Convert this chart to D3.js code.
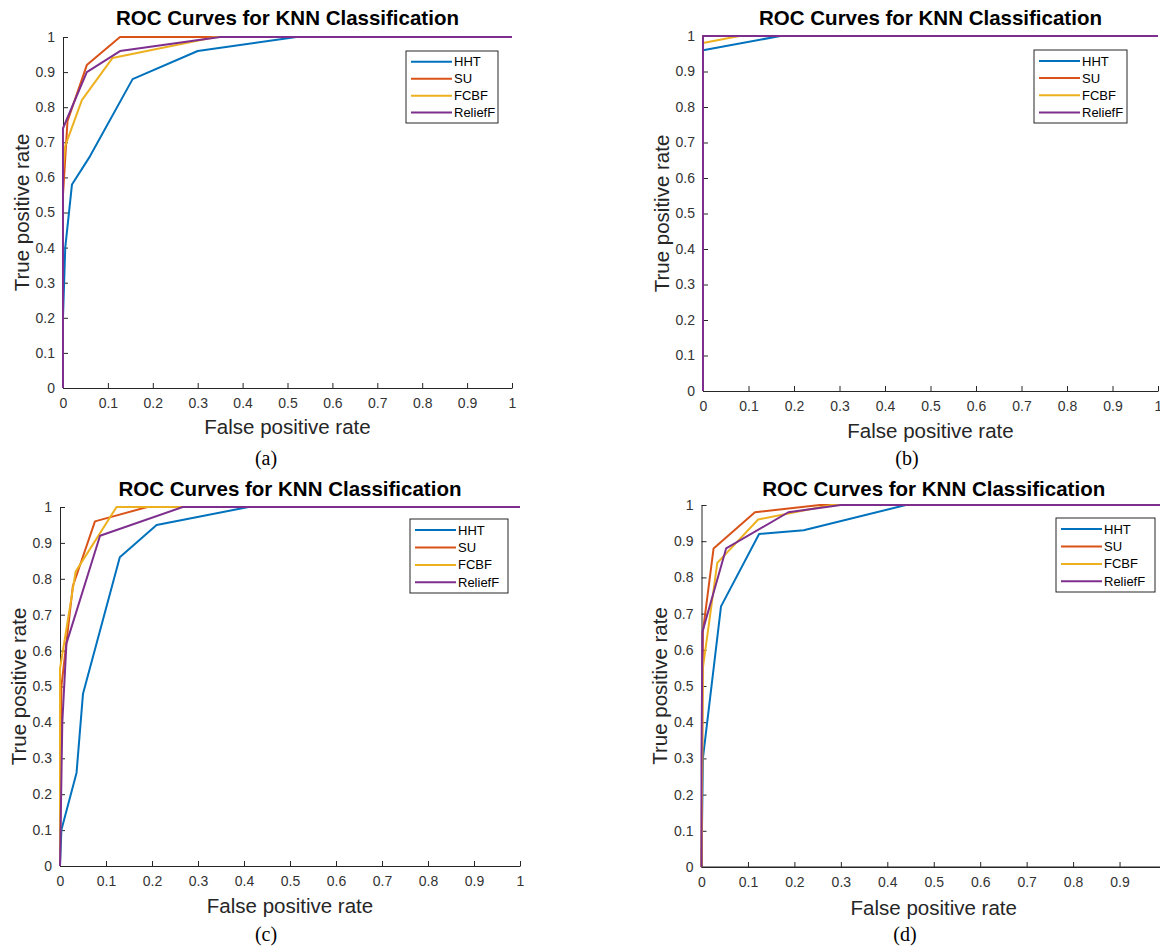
<!DOCTYPE html>
<html>
<head>
<meta charset="utf-8">
<script src="https://cdn.jsdelivr.net/npm/d3@7"></script>
<style>
  body { margin: 0; background: #fff; }
  text { font-family: "Liberation Sans", Arial, sans-serif; }
</style>
</head>
<body>
<svg id="chart" width="1160" height="946"></svg>
<script>
'use strict';

// ---- data ----
const seriesNames = ["HHT", "SU", "FCBF", "ReliefF"];
const seriesColors = ["#0072BD", "#D95319", "#EDB120", "#7E2F8E"];
const tickValues = [0, 0.1, 0.2, 0.3, 0.4, 0.5, 0.6, 0.7, 0.8, 0.9, 1];
const tickLabels = ["0", "0.1", "0.2", "0.3", "0.4", "0.5", "0.6", "0.7", "0.8", "0.9", "1"];
const captions = ["(a)", "(b)", "(c)", "(d)"];
const titleText = "ROC Curves for KNN Classification";
const xLabelText = "False positive rate";
const yLabelText = "True positive rate";

// [false positive rate, true positive rate], one array per series: HHT, SU, FCBF, ReliefF
const rocA = [
  [[0,0],[0,0.2],[0.005,0.4],[0.02,0.58],[0.06,0.66],[0.155,0.88],[0.3,0.96],[0.52,1],[1,1]],
  [[0,0],[0,0.55],[0.01,0.76],[0.053,0.92],[0.127,1],[1,1]],
  [[0,0],[0,0.62],[0.005,0.69],[0.042,0.82],[0.11,0.94],[0.34,1],[1,1]],
  [[0,0],[0,0.74],[0.053,0.9],[0.127,0.96],[0.35,1],[1,1]]
];
const rocB = [
  [[0,0],[0,0.96],[0.17,1],[1,1]],
  [[0,0],[0,1],[1,1]],
  [[0,0],[0,0.98],[0.08,1],[1,1]],
  [[0,0],[0,1],[1,1]]
];
const rocC = [
  [[0,0],[0.003,0.1],[0.036,0.26],[0.05,0.48],[0.13,0.86],[0.21,0.95],[0.41,1],[1,1]],
  [[0,0],[0.003,0.5],[0.028,0.78],[0.076,0.96],[0.19,1],[1,1]],
  [[0,0],[0,0.55],[0.034,0.82],[0.123,1],[1,1]],
  [[0,0],[0.005,0.4],[0.014,0.62],[0.087,0.92],[0.267,1],[1,1]]
];
const rocD = [
  [[0,0],[0.003,0.3],[0.042,0.72],[0.124,0.92],[0.22,0.93],[0.44,1],[1,1]],
  [[0,0],[0.003,0.65],[0.026,0.88],[0.115,0.98],[0.255,1],[1,1]],
  [[0,0],[0.003,0.55],[0.034,0.84],[0.122,0.96],[0.28,1],[1,1]],
  [[0,0],[0,0.3],[0.002,0.65],[0.053,0.88],[0.187,0.98],[0.3,1],[1,1]]
];
const panelData = [rocA, rocB, rocC, rocD];

// ---- layout (pixels) ----
const panels = [
  {x0: 63,    x1: 512,  yTop: 37,  yBot: 388, titleY: 18,  xlabY: 427, ylabX: 22,  capX: 266, capY: 458, leg: {x: 406,  y: 51,  w: 92, h: 72}},
  {x0: 703,   x1: 1158, yTop: 36,  yBot: 391, titleY: 18,  xlabY: 431, ylabX: 662, capX: 907, capY: 458, leg: {x: 1034, y: 50,  w: 93, h: 73}},
  {x0: 60,    x1: 520,  yTop: 507, yBot: 866, titleY: 489, xlabY: 906, ylabX: 19,  capX: 266, capY: 934, leg: {x: 410,  y: 519, w: 98, h: 74}},
  {x0: 701.5, x1: 1166, yTop: 505, yBot: 867, titleY: 489, xlabY: 908, ylabX: 660, capX: 905, capY: 934, leg: {x: 1056, y: 518, w: 99, h: 74}}
];

const ink = "#262626";
const svg = d3.select("#chart");

panels.forEach((p, pi) => {
  const x = d3.scaleLinear().domain([0, 1]).range([p.x0, p.x1]);
  const y = d3.scaleLinear().domain([0, 1]).range([p.yBot, p.yTop]);
  const g = svg.append("g");

  // the last panel runs past the page edge, so its "1" label is never seen
  const xVis = tickValues.filter(v => x(v) <= 1160);

  const xAxis = d3.axisBottom(x)
      .tickValues(xVis)
      .tickFormat((d, i) => tickLabels[i])
      .tickSizeInner(-5).tickSizeOuter(0).tickPadding(10);
  const yAxis = d3.axisLeft(y)
      .tickValues(tickValues)
      .tickFormat((d, i) => tickLabels[i])
      .tickSizeInner(-5).tickSizeOuter(0).tickPadding(8);

  [g.append("g").attr("transform", `translate(0,${p.yBot})`).call(xAxis),
   g.append("g").attr("transform", `translate(${p.x0},0)`).call(yAxis)]
    .forEach(a => {
      a.attr("font-family", null).attr("font-size", null);
      a.select(".domain").attr("stroke", ink);
      a.selectAll(".tick line").attr("stroke", ink);
      a.selectAll(".tick text").attr("fill", "#333").style("font-size", "14px");
    });
  if (pi === 3) {
    g.append("line")
        .attr("x1", p.x0).attr("x2", x(1))
        .attr("y1", p.yBot).attr("y2", p.yBot)
        .attr("stroke", ink);
  }

  const line = d3.line().x(d => x(d[0])).y(d => y(d[1]));
  g.append("g")
    .selectAll("path")
    .data(panelData[pi])
    .join("path")
      .attr("d", line)
      .attr("fill", "none")
      .attr("stroke", (d, i) => seriesColors[i])
      .attr("stroke-width", 2)
      .attr("stroke-linejoin", "round");

  const cx = (p.x0 + p.x1) / 2, cy = (p.yTop + p.yBot) / 2;
  g.append("text")
      .attr("x", cx).attr("y", p.titleY).attr("dy", "0.35em")
      .attr("text-anchor", "middle")
      .style("font-size", "20.5px").style("font-weight", "bold")
      .attr("fill", "#000")
      .text(titleText);

  g.append("text")
      .attr("x", cx).attr("y", p.xlabY).attr("dy", "0.35em")
      .attr("text-anchor", "middle")
      .style("font-size", "20.5px")
      .attr("fill", ink)
      .text(xLabelText);

  g.append("text")
      .attr("transform", `translate(${p.ylabX},${cy}) rotate(-90)`)
      .attr("dy", "0.35em")
      .attr("text-anchor", "middle")
      .style("font-size", "20.5px")
      .attr("fill", ink)
      .text(yLabelText);

  g.append("text")
      .attr("x", p.capX).attr("y", p.capY).attr("dy", "0.35em")
      .attr("text-anchor", "middle")
      .style("font-family", "'Liberation Serif', 'Times New Roman', serif")
      .style("font-size", "20px")
      .attr("fill", "#000")
      .text(captions[pi]);

  // legend
  const L = p.leg;
  const lg = g.append("g");
  lg.append("rect")
      .attr("x", L.x).attr("y", L.y).attr("width", L.w).attr("height", L.h)
      .attr("fill", "#fff").attr("stroke", ink).attr("stroke-width", 1);
  const rows = lg.selectAll("g.row")
    .data(seriesNames)
    .join("g")
      .attr("class", "row")
      .attr("transform", (d, i) => `translate(0,${L.y + L.h * (0.15 + i * 0.235)})`);
  rows.append("line")
      .attr("x1", L.x + 5).attr("x2", L.x + 46)
      .attr("stroke", (d, i) => seriesColors[i]).attr("stroke-width", 2);
  rows.append("text")
      .attr("x", L.x + 48).attr("dy", "0.35em")
      .style("font-size", "13px")
      .attr("fill", "#000")
      .text(d => d);
});
</script>
</body>
</html>
